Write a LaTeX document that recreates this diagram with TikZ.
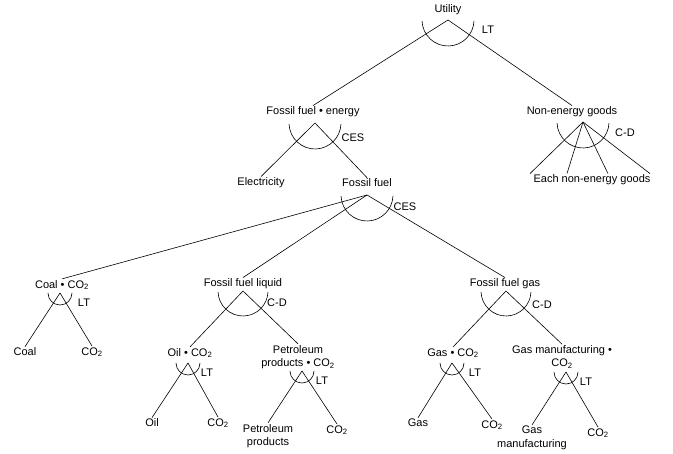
\documentclass[tikz,border=0pt]{standalone}
\usepackage{fontspec}
\setmainfont{Liberation Sans}
\newcommand{\cotwo}{CO\textsubscript{2}}

\begin{document}
\begin{tikzpicture}[x=1pt, y=-1pt, line width=0.6pt, font=\fontsize{11}{13.5}\selectfont]
  \tikzset{lbl/.style={align=center, inner sep=1pt}}
  \useasboundingbox (0,0) rectangle (673,454);

  \node[lbl] (U) at (448,10) {Utility};
  \node[lbl] (FE) at (313,112) {Fossil fuel \textbullet{} energy};
  \node[lbl] (NE) at (572,112) {Non-energy goods};
  \node[lbl] (EG) at (592,180) {Each non-energy goods};
  \node[lbl] (EL) at (261,183) {Electricity};
  \node[lbl] (FF) at (367,183) {Fossil fuel};

  \node[lbl] (CC) at (62,285) {Coal \textbullet{} \cotwo};
  \node[lbl] (FL) at (243,284) {Fossil fuel liquid};
  \node[lbl] (FG) at (505,284) {Fossil fuel gas};

  \node[lbl] (CoalL) at (25,352) {Coal};
  \node[lbl] (CoalC) at (92,352) {\cotwo};

  \node[lbl] (OC) at (190,353) {Oil \textbullet{} \cotwo};
  \node[lbl] (PC) at (298,357) {Petroleum\\ products \textbullet{} \cotwo};
  \node[lbl] (GC) at (453,353) {Gas \textbullet{} \cotwo};
  \node[lbl] (MC) at (562,357) {Gas manufacturing \textbullet\\ \cotwo};

  \node[lbl] (OilL) at (152,423) {Oil};
  \node[lbl] (OilC) at (218,423) {\cotwo};
  \node[lbl] (PetL) at (268,436) {Petroleum\\ products};
  \node[lbl] (PetC) at (337,430) {\cotwo};
  \node[lbl] (GasL) at (418,423) {Gas};
  \node[lbl] (GasC) at (492,425) {\cotwo};
  \node[lbl] (ManL) at (532,438) {Gas\\ manufacturing};
  \node[lbl] (ManC) at (598,433) {\cotwo};

  % nesting points
  \coordinate (Ua) at (448,20);
  \coordinate (FEa) at (315,123);
  \coordinate (NEa) at (583,122);
  \coordinate (FFa) at (367,195);
  \coordinate (CCa) at (60,293);
  \coordinate (FLa) at (243,291);
  \coordinate (FGa) at (506,291);
  \coordinate (OCa) at (188,363);
  \coordinate (PCa) at (302,371);
  \coordinate (GCa) at (452,363);
  \coordinate (MCa) at (566,372);

  % elasticities
  \node[lbl] (UT) at (488,30) {LT};
  \node[lbl] (FET) at (353,138) {CES};
  \node[lbl] (NET) at (625,133) {C-D};
  \node[lbl] (FFT) at (405,207) {CES};
  \node[lbl] (CCT) at (84,303) {LT};
  \node[lbl] (FLT) at (277,303) {C-D};
  \node[lbl] (FGT) at (542,305) {C-D};
  \node[lbl] (OCT) at (207,373) {LT};
  \node[lbl] (PCT) at (322,381) {LT};
  \node[lbl] (GCT) at (475,373) {LT};
  \node[lbl] (MCT) at (586,382) {LT};

  \draw (Ua) -- (FE.north);
  \draw (Ua) -- (NE.north);
  \draw (FEa) -- (EL.north);
  \draw (FEa) -- (FF.north);
  \foreach \dx in {-62,-25,16,58}
    \draw (NEa) -- ([xshift=\dx pt]EG.north);

  \draw (FFa) -- (CC.north);
  \draw (FFa) -- (FL.north);
  \draw (FFa) -- (FG.north);

  \draw (CCa) -- (CoalL.north);
  \draw (CCa) -- (CoalC.north);
  \draw (FLa) -- (OC.north);
  \draw (FLa) -- (PC.north);
  \draw (FGa) -- (GC.north);
  \draw (FGa) -- (MC.north);

  \draw (OCa) -- (OilL.north);
  \draw (OCa) -- (OilC.north);
  \draw (PCa) -- (PetL.north);
  \draw (PCa) -- (PetC.north);
  \draw (GCa) -- (GasL.north);
  \draw (GCa) -- (GasC.north);
  \draw (MCa) -- (ManL.north);
  \draw (MCa) -- (ManC.north);

  % arcs
  \draw ([shift={(182:26pt)}]Ua) arc[start angle=182, end angle=358, radius=26pt];
  \draw ([shift={(182:26pt)}]FEa) arc[start angle=182, end angle=358, radius=26pt];
  \draw ([shift={(182:26pt)}]NEa) arc[start angle=182, end angle=358, radius=26pt];
  \draw ([shift={(182:26pt)}]FFa) arc[start angle=182, end angle=358, radius=26pt];
  \draw ([shift={(182:25pt)}]FLa) arc[start angle=182, end angle=358, radius=25pt];
  \draw ([shift={(182:25pt)}]FGa) arc[start angle=182, end angle=358, radius=25pt];
  \draw ([shift={(180:12pt)}]CCa) arc[start angle=180, end angle=360, radius=12pt];
  \draw ([shift={(180:12pt)}]OCa) arc[start angle=180, end angle=360, radius=12pt];
  \draw ([shift={(180:12pt)}]PCa) arc[start angle=180, end angle=360, radius=12pt];
  \draw ([shift={(180:12pt)}]GCa) arc[start angle=180, end angle=360, radius=12pt];
  \draw ([shift={(180:12pt)}]MCa) arc[start angle=180, end angle=360, radius=12pt];
\end{tikzpicture}
\end{document}
